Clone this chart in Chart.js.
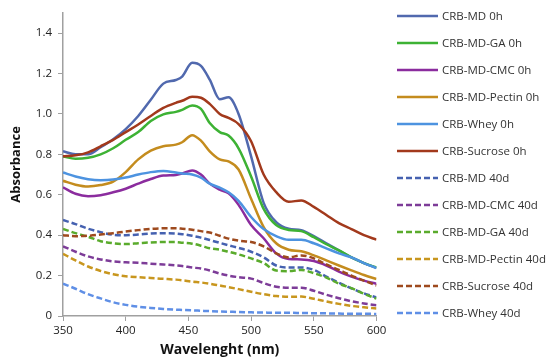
<!DOCTYPE html>
<html>
<head>
<meta charset="utf-8">
<script src="https://cdn.jsdelivr.net/npm/chart.js@4/dist/chart.umd.min.js"></script>
<style>
  html, body { margin: 0; padding: 0; background: #fff; }
  #wrap { position: relative; width: 550px; height: 364px; overflow: hidden; }
  #c { position: absolute; left: 0; top: 0; }
  #legend { position: absolute; left: 0; top: 0; width: 550px; height: 364px; pointer-events: none; }
  .item { position: absolute; left: 397px; height: 16px; display: flex; align-items: center; }
  .item svg { width: 41px; height: 6px; margin-right: 4px; }
  .item span { font-family: "Open Sans", sans-serif; font-size: 11.5px; color: #333; white-space: nowrap; }
</style>
</head>
<body>
<div id="wrap">
  <canvas id="c" width="550" height="364"></canvas>
  <div id="legend"></div>
</div>
<script>
// ---- data ----
const wavelengths = [350,360,370,380,390,400,410,420,430,440,445,453,460,467,475,482,490,500,510,520,530,540,550,560,570,580,590,600];

const md0h      = [0.815,0.80,0.80,0.835,0.875,0.925,0.99,1.07,1.15,1.168,1.185,1.253,1.238,1.17,1.073,1.082,1.0,0.79,0.56,0.465,0.432,0.425,0.395,0.36,0.325,0.29,0.262,0.238];
const ga0h      = [0.79,0.778,0.783,0.80,0.83,0.872,0.91,0.965,0.998,1.01,1.02,1.042,1.025,0.955,0.91,0.893,0.83,0.69,0.53,0.45,0.426,0.42,0.39,0.355,0.325,0.29,0.262,0.24];
const cmc0h     = [0.637,0.605,0.593,0.598,0.612,0.63,0.655,0.678,0.695,0.698,0.705,0.72,0.70,0.655,0.625,0.607,0.55,0.45,0.385,0.31,0.282,0.28,0.272,0.25,0.22,0.195,0.175,0.159];
const pectin0h  = [0.669,0.65,0.641,0.648,0.665,0.712,0.775,0.818,0.84,0.848,0.86,0.895,0.868,0.815,0.775,0.765,0.725,0.58,0.44,0.36,0.328,0.32,0.30,0.275,0.25,0.226,0.203,0.183];
const whey0h    = [0.71,0.69,0.677,0.672,0.675,0.685,0.70,0.712,0.718,0.71,0.705,0.70,0.685,0.655,0.635,0.612,0.57,0.49,0.43,0.395,0.377,0.377,0.36,0.335,0.31,0.29,0.262,0.237];
const sucrose0h = [0.79,0.795,0.81,0.84,0.872,0.91,0.948,0.99,1.03,1.055,1.065,1.085,1.08,1.05,1.0,0.98,0.95,0.865,0.70,0.613,0.565,0.572,0.54,0.50,0.46,0.43,0.40,0.378];
const md40d      = [0.475,0.455,0.432,0.415,0.402,0.40,0.403,0.408,0.41,0.408,0.405,0.397,0.388,0.376,0.362,0.35,0.337,0.318,0.29,0.25,0.24,0.24,0.228,0.195,0.165,0.137,0.112,0.092];
const cmc40d     = [0.345,0.318,0.295,0.28,0.27,0.266,0.263,0.259,0.255,0.25,0.247,0.24,0.235,0.225,0.21,0.20,0.192,0.185,0.163,0.145,0.14,0.14,0.125,0.105,0.088,0.073,0.062,0.053];
const ga40d      = [0.431,0.41,0.392,0.37,0.36,0.356,0.36,0.364,0.366,0.366,0.363,0.358,0.348,0.335,0.328,0.318,0.305,0.285,0.262,0.225,0.222,0.228,0.212,0.19,0.16,0.138,0.11,0.086];
const pectin40d  = [0.308,0.275,0.245,0.223,0.207,0.197,0.192,0.188,0.184,0.18,0.177,0.17,0.166,0.16,0.151,0.143,0.133,0.12,0.108,0.099,0.095,0.096,0.085,0.072,0.06,0.05,0.043,0.037];
const sucrose40d = [0.40,0.395,0.397,0.403,0.41,0.418,0.425,0.431,0.434,0.434,0.432,0.427,0.42,0.413,0.397,0.383,0.373,0.366,0.345,0.31,0.29,0.30,0.285,0.255,0.228,0.20,0.175,0.151];
const whey40d    = [0.16,0.135,0.108,0.087,0.068,0.055,0.046,0.04,0.035,0.031,0.03,0.028,0.026,0.024,0.022,0.021,0.02,0.018,0.017,0.016,0.016,0.015,0.014,0.013,0.012,0.011,0.011,0.01];

const yTicks = [0,0.2,0.4,0.6,0.8,1,1.2,1.4];
const xTicks = [350,400,450,500,550,600];

const seriesDefs = [
  {label:'CRB-MD 0h',         data: md0h,       color:'#5169ae', dash:[]},
  {label:'CRB-MD-GA 0h',      data: ga0h,       color:'#3db234', dash:[]},
  {label:'CRB-MD-CMC 0h',     data: cmc0h,      color:'#8b2c9e', dash:[]},
  {label:'CRB-MD-Pectin 0h',  data: pectin0h,   color:'#c48c1e', dash:[]},
  {label:'CRB-Whey 0h',       data: whey0h,     color:'#4d93e0', dash:[]},
  {label:'CRB-Sucrose 0h',    data: sucrose0h,  color:'#a2391c', dash:[]},
  {label:'CRB-MD 40d',        data: md40d,      color:'#4561b0', dash:[6,3]},
  {label:'CRB-MD-CMC 40d',    data: cmc40d,     color:'#7d3c98', dash:[6,3]},
  {label:'CRB-MD-GA 40d',     data: ga40d,      color:'#5aab2c', dash:[6,3]},
  {label:'CRB-MD-Pectin 40d', data: pectin40d,  color:'#c8961e', dash:[6,3]},
  {label:'CRB-Sucrose 40d',   data: sucrose40d, color:'#9e4a1e', dash:[6,3]},
  {label:'CRB-Whey 40d',      data: whey40d,    color:'#5f8fe6', dash:[6,3]}
];

const datasets = seriesDefs.map((s, i) => ({
  label: s.label,
  data: s.data.map((v, k) => ({x: wavelengths[k], y: v})),
  borderColor: s.color,
  backgroundColor: s.color,
  borderWidth: 2.5,
  borderDash: s.dash,
  pointRadius: 0,
  fill: false,
  tension: 0.4,
  cubicInterpolationMode: 'monotone',
  order: seriesDefs.length - i
}));

const tickFont = {family: '"Open Sans", sans-serif', size: 11.5};
const titleFont = {family: '"Open Sans", sans-serif', size: 13, weight: 'bold'};
const xTitleFont = {family: '"Open Sans", sans-serif', size: 14, weight: 'bold'};

new Chart(document.getElementById('c'), {
  type: 'line',
  data: { datasets },
  options: {
    responsive: false,
    animation: false,
    devicePixelRatio: 1,
    layout: { padding: { top: 7, right: 173.5, left: 0, bottom: 0 } },
    plugins: { legend: { display: false }, tooltip: { enabled: false } },
    scales: {
      x: {
        type: 'linear', min: 350, max: 600,
        afterFit: s => { s.height = 48; },
        afterBuildTicks: s => { s.ticks = xTicks.map(v => ({value: v})); },
        grid: { drawOnChartArea: false, drawTicks: true, tickLength: 5, color: '#a0a0a0', lineWidth: 1 },
        border: { color: '#a0a0a0', width: 1.5 },
        ticks: { font: tickFont, color: '#222', padding: 3, maxRotation: 0 },
        title: { display: true, text: 'Wavelenght (nm)', font: xTitleFont, color: '#111', padding: {top: 0, bottom: 6} }
      },
      y: {
        type: 'linear', min: 0, max: 1.5,
        afterFit: s => { s.width = 63; },
        afterBuildTicks: s => { s.ticks = yTicks.map(v => ({value: v})); },
        grid: { drawOnChartArea: false, drawTicks: true, tickLength: 5, color: '#a0a0a0', lineWidth: 1 },
        border: { color: '#a0a0a0', width: 1.5 },
        ticks: { font: tickFont, color: '#222', padding: 6 },
        title: { display: true, text: 'Absorbance', font: titleFont, color: '#111', padding: {top: 8, bottom: 0} }
      }
    }
  }
});

// HTML legend
const legend = document.getElementById('legend');
seriesDefs.forEach((s, i) => {
  const cy = 15.7 + 27 * i;
  const d = document.createElement('div');
  d.className = 'item';
  d.style.top = (cy - 8) + 'px';
  const dash = s.dash.length ? `stroke-dasharray="${s.dash.join(',')}"` : '';
  d.innerHTML = `<svg viewBox="0 0 41 6"><line x1="0" y1="3" x2="41" y2="3" stroke="${s.color}" stroke-width="2.5" ${dash}/></svg><span>${s.label}</span>`;
  legend.appendChild(d);
});
</script>
</body>
</html>
